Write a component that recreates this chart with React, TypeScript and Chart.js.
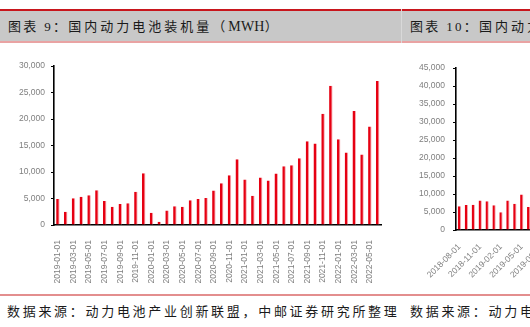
import React, { useEffect, useRef } from 'react';
import { Chart, registerables } from 'chart.js';
Chart.register(...registerables);

// 图表 9：国内动力电池装机量（MWH）
const months9 = [
  '2019-01-01','2019-02-01','2019-03-01','2019-04-01','2019-05-01','2019-06-01','2019-07-01','2019-08-01','2019-09-01','2019-10-01','2019-11-01','2019-12-01',
  '2020-01-01','2020-02-01','2020-03-01','2020-04-01','2020-05-01','2020-06-01','2020-07-01','2020-08-01','2020-09-01','2020-10-01','2020-11-01','2020-12-01',
  '2021-01-01','2021-02-01','2021-03-01','2021-04-01','2021-05-01','2021-06-01','2021-07-01','2021-08-01','2021-09-01','2021-10-01','2021-11-01','2021-12-01',
  '2022-01-01','2022-02-01','2022-03-01','2022-04-01','2022-05-01','2022-06-01',
];
const values9 = [
  4900, 2500, 5050, 5350, 5600, 6550, 4550, 3450, 3950, 4100, 6300, 9750,
  2300, 600, 2750, 3550, 3450, 4650, 4900, 5100, 6500, 7900, 9400, 12400,
  8600, 5500, 8950, 8400, 9700, 11100, 11300, 12600, 15800, 15400, 21000, 26300,
  16200, 13700, 21500, 13300, 18600, 27200,
];
const yMax9 = 30000;
const yStep9 = 5000;

// 图表 10（右侧，被截断）
const months10 = [
  '2018-08-01','2018-09-01','2018-10-01','2018-11-01','2018-12-01','2019-01-01','2019-02-01',
  '2019-03-01','2019-04-01','2019-05-01','2019-06-01','2019-07-01','2019-08-01',
];
const values10 = [6600, 6950, 7050, 8200, 8000, 6850, 4900, 8200, 7300, 9900, 6400, null, null];
const yMax10 = 45000;
const yStep10 = 5000;

const title9 = ['图表 9：', '国内动力电池装机量（', 'MWH', '）'];
const title10 = ['图表 10：', '国内动力电池产量（', 'MWH', '）'];
const source9 = '数据来源：动力电池产业创新联盟，中邮证券研究所整理';
const source10 = '数据来源：动力电池产业创新联盟，中邮证券研究所整理';

const TICK_FONT = { family: '"Liberation Sans", Arial, sans-serif', size: 8.5 };
const TICK_COLOR = '#7f7f7f';
const BAR_RED = '#E60012';

type BarProps = {
  labels: string[];
  values: (number | null)[];
  yMax: number;
  yStep: number;
  every: number;
  rotation: number;
  yAxisWidth: number;
  xAxisHeight: number;
  yPad: number;
  xPad: number;
  padTop: number;
  padRight: number;
  barPct: number;
  style: React.CSSProperties;
};

function BarChart(p: BarProps) {
  const ref = useRef<HTMLCanvasElement | null>(null);
  useEffect(() => {
    if (!ref.current) return;
    const chart = new Chart(ref.current, {
      type: 'bar',
      data: {
        labels: p.labels,
        datasets: [
          {
            data: p.values as any,
            backgroundColor: BAR_RED,
            borderColor: '#F6A9B0',
            borderWidth: { top: 0, left: 0, bottom: 0, right: 1 } as any,
            barPercentage: p.barPct,
            categoryPercentage: 1,
          },
        ],
      },
      options: {
        animation: false,
        responsive: false,
        maintainAspectRatio: false,
        devicePixelRatio: 1,
        layout: { padding: { top: p.padTop, right: p.padRight, bottom: 0, left: 0 } },
        plugins: { legend: { display: false }, tooltip: { enabled: false }, title: { display: false } },
        scales: {
          x: {
            grid: { display: false },
            border: { display: true, color: '#000', width: 1.6 },
            ticks: {
              autoSkip: false,
              minRotation: p.rotation,
              maxRotation: p.rotation,
              padding: p.xPad,
              color: TICK_COLOR,
              font: TICK_FONT,
              callback: (_v: any, i: number) => (i % p.every === 0 ? p.labels[i] : ''),
            },
            afterFit: (s: any) => {
              s.height = p.xAxisHeight;
            },
          },
          y: {
            min: 0,
            max: p.yMax,
            grid: { display: true, drawOnChartArea: false, drawTicks: true, tickLength: 3, color: '#000' },
            border: { display: true, color: '#000', width: 1.6 },
            ticks: {
              stepSize: p.yStep,
              padding: p.yPad,
              color: TICK_COLOR,
              font: TICK_FONT,
              callback: (v: any) => Number(v).toLocaleString('en-US'),
            },
            afterFit: (s: any) => {
              s.width = p.yAxisWidth;
            },
          },
        },
      },
    });
    return () => chart.destroy();
  }, []);
  const w = p.style.width as number;
  const h = p.style.height as number;
  return <canvas ref={ref} width={w} height={h} style={{ position: 'absolute', ...p.style }} />;
}

const CJK_FONT = '"Liberation Serif", "Noto Sans CJK SC", serif';

function Title(props: { left: number; parts: string[] }) {
  const [a, b, c, d] = props.parts;
  return (
    <div
      style={{
        position: 'absolute',
        left: props.left,
        top: 18,
        fontFamily: CJK_FONT,
        fontSize: 13,
        lineHeight: '17px',
        color: '#1a1a1a',
        whiteSpace: 'nowrap',
      }}
    >
      <span style={{ letterSpacing: 2.3 }}>{a}</span>
      <span style={{ letterSpacing: 3.0 }}>{b}</span>
      <span style={{ letterSpacing: 0.2, fontSize: 14 }}>{c}</span>
      <span style={{ letterSpacing: 3.0 }}>{d}</span>
    </div>
  );
}

function Source(props: { left: number; text: string }) {
  return (
    <div
      style={{
        position: 'absolute',
        left: props.left,
        top: 303,
        fontFamily: CJK_FONT,
        fontSize: 13,
        letterSpacing: 2.7,
        lineHeight: '18px',
        color: '#1a1a1a',
        whiteSpace: 'nowrap',
      }}
    >
      {props.text}
    </div>
  );
}

export default function App() {
  return (
    <div
      style={{
        position: 'fixed',
        left: 0,
        top: 0,
        width: 530,
        height: 327,
        overflow: 'hidden',
        background: '#fff',
      }}
    >
      <div style={{ position: 'absolute', left: 0, top: 9, width: 530, height: 2, background: '#C8161D' }} />
      <div style={{ position: 'absolute', left: 0, top: 11, width: 530, height: 30, background: '#C8C8C8' }} />
      <div style={{ position: 'absolute', left: 0, top: 41, width: 530, height: 2, background: '#E9A3A3' }} />
      <div style={{ position: 'absolute', left: 401, top: 9, width: 1, height: 34, background: '#D9D9D9' }} />
      <Title left={8} parts={title9} />
      <Title left={410} parts={title10} />
      <BarChart
        labels={months9}
        values={values9}
        yMax={yMax9}
        yStep={yStep9}
        every={2}
        rotation={90}
        yAxisWidth={54}
        xAxisHeight={60}
        yPad={6}
        xPad={7}
        padTop={9}
        padRight={13}
        barPct={0.45}
        style={{ left: 0, top: 55, width: 395, height: 230 }}
      />
      <BarChart
        labels={months10}
        values={values10}
        yMax={yMax10}
        yStep={yStep10}
        every={3}
        rotation={45}
        yAxisWidth={61}
        xAxisHeight={60}
        yPad={8}
        xPad={4}
        padTop={9}
        padRight={9}
        barPct={0.48}
        style={{ left: 395, top: 55, width: 160, height: 235 }}
      />
      <div style={{ position: 'absolute', left: 0, top: 294, width: 530, height: 2, background: '#E38E8E' }} />
      <Source left={7} text={source9} />
      <Source left={410} text={source10} />
    </div>
  );
}
